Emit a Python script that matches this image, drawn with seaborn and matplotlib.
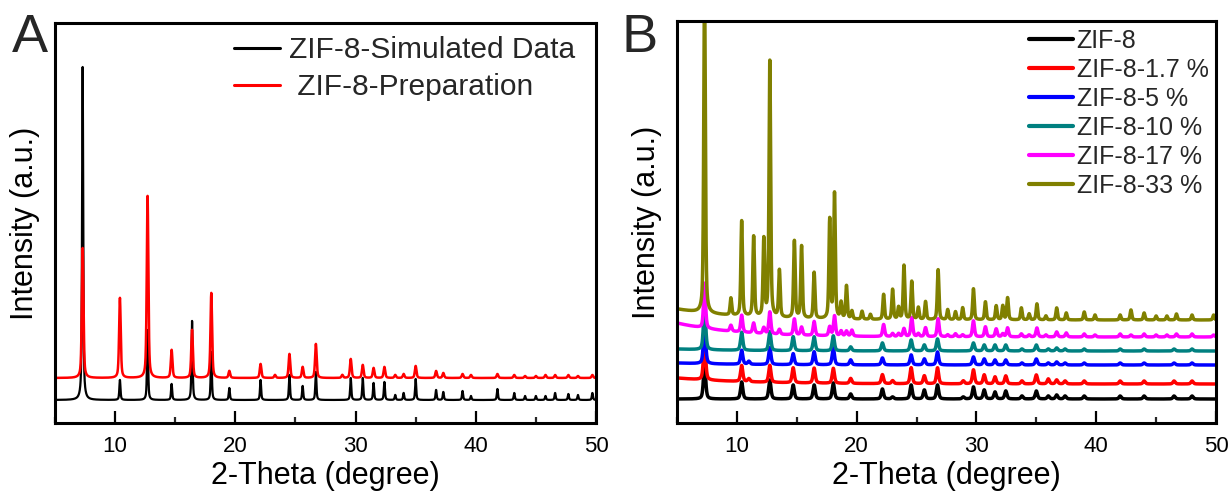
import numpy as np
import pandas as pd
import matplotlib
matplotlib.use("Agg")
import matplotlib.pyplot as plt
from matplotlib.ticker import MultipleLocator
import seaborn as sns

# ---------------- data (peak positions in 2-theta, heights in a.u.) ----------------
# Panel A
a_pos = [7.3, 10.4, 12.7, 14.7, 16.4, 18.0, 19.5, 22.1, 23.3, 24.5, 25.6, 26.7, 28.9,
         29.6, 30.6, 31.5, 32.4, 33.3, 34.0, 35.0, 36.7, 37.3, 38.9, 39.6, 41.8,
         43.2, 44.1, 45.0, 45.8, 46.6, 47.7, 48.5, 49.7]
a_sim_h = [333, 20, 70, 16, 79, 48, 12, 20, 0, 25, 14, 28, 0,
           22, 22, 17, 18, 5, 7, 21, 10, 8, 9, 4, 11,
           7, 4, 4, 4, 7, 6, 5, 7]
a_prep_h = [130, 80, 182, 28, 48, 85, 7, 14, 3, 24, 11, 34, 3,
            19, 13, 10, 11, 3, 4, 12, 7, 5, 4, 3, 4,
            3, 2, 2, 3, 3, 3, 2, 3]
a_labels = ["ZIF-8-Simulated Data", " ZIF-8-Preparation"]
a_offsets = [23, 45]

# Panel B
b_labels = ["ZIF-8", "ZIF-8-1.7 %", "ZIF-8-5 %", "ZIF-8-10 %", "ZIF-8-17 %", "ZIF-8-33 %"]
b_offsets = [24, 39, 58, 72, 86, 103]
b_bg_amp = [0, 6, 2, 2, 14, 11]       # low-angle background rise
b_bg_decay = [5, 6, 5, 5, 5, 5]

z_pos = [7.3, 10.4, 11.0, 12.75, 14.7, 16.45, 18.05, 19.5, 22.15, 23.0, 24.55, 25.65,
         26.75, 28.9, 29.75, 30.65, 31.55, 32.45, 33.8, 35.0, 36.0, 36.7, 37.4,
         39.0, 42.0, 44.0, 46.5, 48.0]
z_black_h = [35, 17, 0, 19, 14, 14, 16, 5, 10, 2, 14, 9, 14, 2, 12, 9, 7, 8, 3, 8, 3, 4, 3, 3, 3, 3, 3, 3]
z_red_h = [40, 16, 3, 17, 15, 15, 15, 5, 9, 3, 16, 8, 16, 3, 14, 9, 7, 8, 3, 9, 5, 4, 3, 3, 3, 3, 3, 3]
z_blue_h = [40, 14, 3, 17, 11, 13, 17, 5, 7, 0, 10, 6, 13, 0, 8, 6, 5, 5, 2, 6, 2, 3, 2, 2, 2, 2, 2, 2]
z_teal_h = [45, 18, 0, 19, 14, 14, 15, 4, 8, 0, 11, 6, 12, 0, 8, 6, 6, 6, 2, 6, 2, 3, 2, 2, 2, 2, 2, 2]

o_pos = [7.3, 9.5, 10.4, 11.4, 12.25, 12.75, 13.55, 14.8, 15.4, 16.45, 17.75, 18.15,
         18.7, 19.15, 19.6, 20.45, 21.15, 22.25, 23.0, 23.5, 23.95, 24.6, 25.15, 25.75,
         26.8, 27.6, 28.25, 28.85, 29.75, 30.75, 31.65, 32.2, 32.6, 33.75, 34.4, 35.05,
         35.8, 36.7, 37.5, 39.0, 39.9, 42.0, 42.9, 44.0, 45.0, 45.9, 46.7, 48.0, 49.8]
o_magenta_h = [45, 6, 17, 10, 6, 22, 5, 16, 8, 14, 9, 20,
               5, 5, 6, 0, 0, 12, 3, 3, 8, 19, 3, 9,
               18, 2, 3, 2, 16, 10, 8, 3, 9, 3, 2, 9,
               2, 5, 4, 3, 2, 3, 2, 3, 2, 2, 3, 3, 2]
o_olive_h = [330, 17, 95, 80, 77, 256, 47, 77, 72, 46, 99, 125,
             16, 33, 8, 8, 5, 25, 30, 12, 54, 38, 12, 18,
             50, 10, 8, 12, 31, 18, 14, 14, 22, 12, 6, 16,
             4, 12, 7, 8, 5, 5, 10, 7, 4, 4, 6, 5, 5]

# ---------------- helpers ----------------
x = np.linspace(5, 50, 4501)


def trace(pos, heights, fwhm, offset, bg_amp=0.0, bg_decay=5.0, eta=0.5):
    y = np.full_like(x, float(offset))
    y += bg_amp * np.exp(-(x - 5.0) / bg_decay)
    hw = fwhm / 2.0
    for p, h in zip(pos, heights):
        d = (x - p) / hw
        y += h * (eta / (1 + d ** 2) + (1 - eta) * np.exp(-np.log(2) * d ** 2))
    return y


sns.set_theme(style="white")
plt.rcParams["font.family"] = ["Liberation Sans", "DejaVu Sans"]

fig = plt.figure(figsize=(12.31, 4.94), dpi=100)
axA = fig.add_axes([55 / 1231, 71 / 494, 541 / 1231, 400 / 494])
axB = fig.add_axes([677 / 1231, 71 / 494, 539 / 1231, 402 / 494])

# ---------------- Panel A ----------------
dfA = pd.concat([
    pd.DataFrame({"x": x, "y": trace(a_pos, a_sim_h, 0.11, a_offsets[0], eta=0.6), "s": a_labels[0]}),
    pd.DataFrame({"x": x, "y": trace(a_pos, a_prep_h, 0.16, a_offsets[1]), "s": a_labels[1]}),
])
sns.lineplot(data=dfA[dfA.s == a_labels[0]], x="x", y="y", color="black", linewidth=1.6,
             estimator=None, sort=False, ax=axA, label=a_labels[0])
sns.lineplot(data=dfA[dfA.s == a_labels[1]], x="x", y="y", color="#ff0000", linewidth=1.8,
             estimator=None, sort=False, ax=axA, label=a_labels[1])
axA.set_ylim(0, 400)
legA = axA.legend(loc="upper right", frameon=False, fontsize=21.5, handlelength=1.55,
                  handletextpad=0.3, labelspacing=0.3, borderaxespad=0.2,
                  bbox_to_anchor=(0.995, 1.012))
for line in legA.get_lines():
    line.set_linewidth(2.2)

# ---------------- Panel B ----------------
colors = ["#000000", "#ff0000", "#0000ff", "#008080", "#ff00ff", "#808000"]
series_B = [
    (z_pos, z_black_h, 0.22),
    (z_pos, z_red_h, 0.22),
    (z_pos, z_blue_h, 0.22),
    (z_pos, z_teal_h, 0.22),
    (o_pos, o_magenta_h, 0.2),
    (o_pos, o_olive_h, 0.16),
]
frames = []
for i, (pos, hs, fw) in enumerate(series_B):
    frames.append(pd.DataFrame({
        "x": x,
        "y": trace(pos, hs, fw, b_offsets[i], b_bg_amp[i], b_bg_decay[i]),
        "s": b_labels[i]}))
dfB = pd.concat(frames)
sns.lineplot(data=dfB, x="x", y="y", hue="s", hue_order=b_labels, palette=colors,
             linewidth=2.5, estimator=None, sort=False, ax=axB)
axB.set_ylim(0, 402)
axB.legend(loc="upper right", frameon=False, fontsize=18, handlelength=1.75,
           handletextpad=0.15, labelspacing=0.2, borderaxespad=0.2,
           bbox_to_anchor=(1.014, 1.018))
for line in axB.get_legend().get_lines():
    line.set_linewidth(3)

# ---------------- common styling ----------------
for ax in (axA, axB):
    ax.set_xlim(5, 50)
    ax.xaxis.set_major_locator(MultipleLocator(10))
    ax.xaxis.set_minor_locator(MultipleLocator(5))
    ax.set_yticks([])
    ax.tick_params(axis="x", which="major", direction="in", length=9, width=1.6,
                   labelsize=16, pad=9, bottom=True, top=False, colors="black")
    ax.tick_params(axis="x", which="minor", direction="in", length=4.5, width=1.6,
                   bottom=True, top=False)
    for sp in ax.spines.values():
        sp.set_visible(True)
        sp.set_linewidth(2.2)
        sp.set_color("black")
    ax.set_xlabel("2-Theta (degree)", fontsize=22, labelpad=3, color="black")
    ax.set_ylabel("Intensity (a.u.)", fontsize=22, labelpad=11, color="black")

fig.text(12 / 1231, 1 - 52 / 494, "A", fontsize=39, va="baseline", ha="left")
fig.text(622 / 1231, 1 - 52 / 494, "B", fontsize=39, va="baseline", ha="left")

fig.savefig("out.png", dpi=100)
